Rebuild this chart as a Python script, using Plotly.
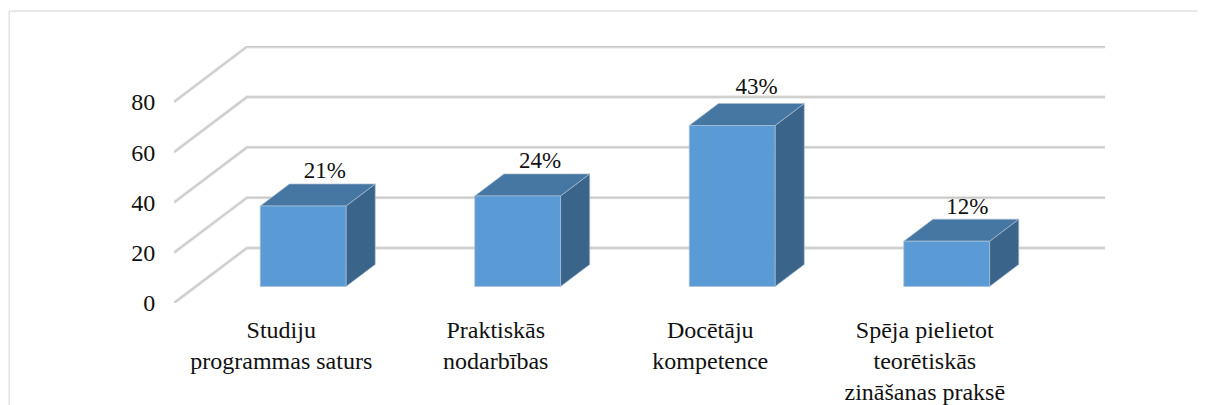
"""
plot.py
-------
Pseudo-3D column chart: plain 2D axes, the depth of the floor and the
bars is an oblique offset added to the data values.
"""

import plotly.graph_objects as go

# ---------------------------------------------------------------------
# DATA
# ---------------------------------------------------------------------
categories = [
    "Studiju<br>programmas saturs",
    "Praktiskās<br>nodarbības",
    "Docētāju<br>kompetence",
    "Spēja pielietot<br>teorētiskās<br>zināšanas praksē",
]
values = [32, 36, 64, 18]
labels = ["21%", "24%", "43%", "12%"]
y_ticks = [0, 20, 40, 60, 80]

# ---------------------------------------------------------------------
# STYLE / GEOMETRY
# ---------------------------------------------------------------------
FONT = "Liberation Serif, Times New Roman, serif"
FRONT = "#5B9BD5"
TOP = "#4676A2"
SIDE = "#3A6489"
EDGE = "#A9BFD3"
GRID = "#C9C9C9"
GRID_SOFT = "#E6E6E6"

# depth of the whole floor, in axis units
DEPTH_X = 0.34
DEPTH_Y = 21.9
# the bars sit in the middle of the floor depth
BAR_WIDTH = 0.40
BAR_DEPTH_START = 0.30
BAR_DEPTH_END = 0.70
X_MAX = 4.34
Y_MAX = 102.2
# the labels were nudged by hand in the original
LABEL_NUDGE_X = [-0.035, -0.031, -0.022, -0.040]
LABEL_NUDGE_Y = [4.7, 4.7, 5.9, 4.3]


def project(x, y, depth):
    return x + depth * DEPTH_X, y + depth * DEPTH_Y


def add_face(fig, corners, color):
    fig.add_trace(go.Scatter(
        x=[c[0] for c in corners] + [corners[0][0]],
        y=[c[1] for c in corners] + [corners[0][1]],
        mode="lines",
        fill="toself",
        fillcolor=color,
        line=dict(color=EDGE, width=0.7),
        hoverinfo="skip",
        cliponaxis=False,
    ))


fig = go.Figure()

# gridlines: floor edge on the left wall, then along the back wall
for tick in y_ticks:
    xs = [0, DEPTH_X, X_MAX]
    ys = [tick, tick + DEPTH_Y, tick + DEPTH_Y]
    fig.add_trace(go.Scatter(x=xs, y=ys, mode="lines", hoverinfo="skip", cliponaxis=False,
                             line=dict(color=GRID_SOFT, width=3.4)))
    fig.add_trace(go.Scatter(x=xs, y=ys, mode="lines", hoverinfo="skip", cliponaxis=False,
                             line=dict(color=GRID, width=1.5)))

# bars
for i, value in enumerate(values):
    left = i + 0.5 - BAR_WIDTH / 2
    right = i + 0.5 + BAR_WIDTH / 2
    add_face(fig, [project(right, 0, BAR_DEPTH_START), project(right, 0, BAR_DEPTH_END),
                   project(right, value, BAR_DEPTH_END), project(right, value, BAR_DEPTH_START)], SIDE)
    add_face(fig, [project(left, value, BAR_DEPTH_START), project(right, value, BAR_DEPTH_START),
                   project(right, value, BAR_DEPTH_END), project(left, value, BAR_DEPTH_END)], TOP)
    add_face(fig, [project(left, 0, BAR_DEPTH_START), project(right, 0, BAR_DEPTH_START),
                   project(right, value, BAR_DEPTH_START), project(left, value, BAR_DEPTH_START)], FRONT)

# data labels, just above the back edge of each bar top
label_x = [project(i + 0.5, v, BAR_DEPTH_END)[0] + LABEL_NUDGE_X[i] for i, v in enumerate(values)]
label_y = [project(i + 0.5, v, BAR_DEPTH_END)[1] + LABEL_NUDGE_Y[i] for i, v in enumerate(values)]
fig.add_trace(go.Scatter(
    x=label_x, y=label_y, text=labels, mode="text", textposition="middle center",
    textfont=dict(family=FONT, size=23, color="#111111"), hoverinfo="skip", cliponaxis=False,
))

# chart frame, only the top and left sides show
fig.add_shape(type="line", xref="paper", yref="paper", x0=-0.177, x1=1.099, y0=1.136, y1=1.136,
              line=dict(color="#E2E2E2", width=1.5))
fig.add_shape(type="line", xref="paper", yref="paper", x0=-0.177, x1=-0.177, y0=-0.397, y1=1.136,
              line=dict(color="#E2E2E2", width=1.5))

fig.update_layout(
    width=1210,
    height=405,
    margin=dict(l=166, r=113, t=38, b=110),
    paper_bgcolor="white",
    plot_bgcolor="white",
    showlegend=False,
    font=dict(family=FONT, size=24, color="#111111"),
    xaxis=dict(range=[0, X_MAX], tickvals=[i + 0.5 for i in range(len(categories))], ticktext=categories,
               tickangle=0, showgrid=False, zeroline=False, showline=False, automargin=False,
               ticks="outside", ticklen=5, tickcolor="rgba(0,0,0,0)"),
    yaxis=dict(range=[0, Y_MAX], tickvals=y_ticks, showgrid=False, zeroline=False, showline=False,
               automargin=False, ticks="outside", ticklen=13, tickcolor="rgba(0,0,0,0)"),
)

fig.write_html("out.html")
